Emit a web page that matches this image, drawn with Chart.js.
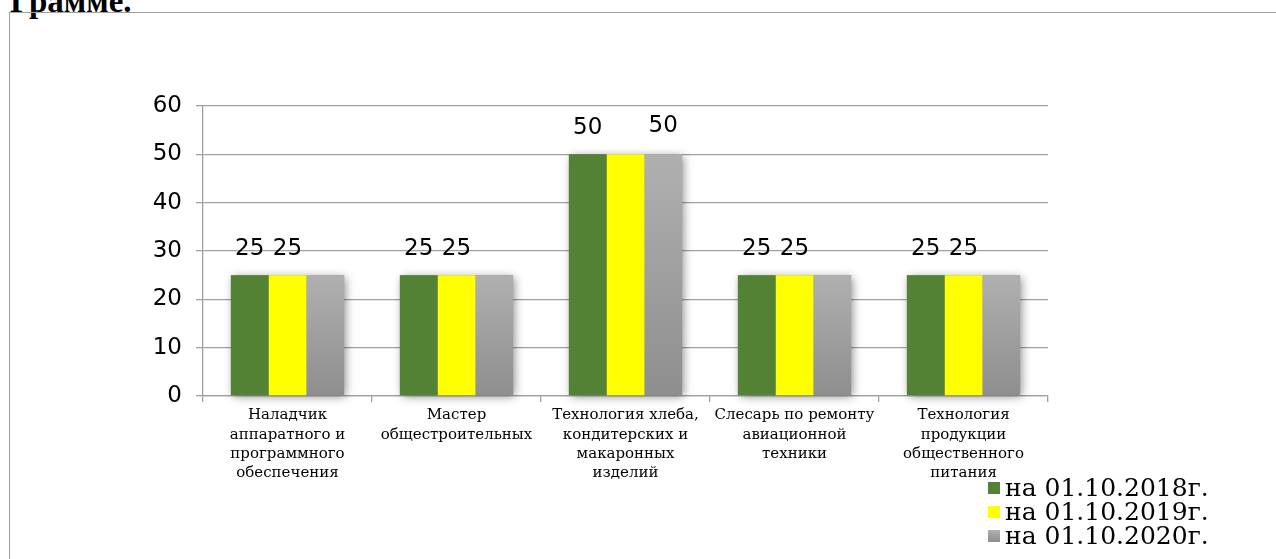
<!DOCTYPE html>
<html>
<head>
<meta charset="utf-8">
<script src="https://cdn.jsdelivr.net/npm/chart.js@4"></script>
<style>
  body { margin: 0; background: #fff; overflow: hidden; }
  #wrap { position: relative; width: 1276px; height: 559px; overflow: hidden; }
  #heading {
    position: absolute; left: 10px; top: -15px; margin: 0;
    font: bold 33px "Liberation Serif", serif; line-height: 1; color: #000;
  }
  #frame {
    position: absolute; left: 9px; top: 12px; width: 1300px; height: 600px;
    border: 1.5px solid #a0a0a0; box-sizing: border-box; background: transparent;
  }
  #chart { position: absolute; left: 0; top: 0; }
</style>
</head>
<body>
<div id="wrap">
  <p id="heading">Грамме.</p>
  <div id="frame"></div>
  <canvas id="chart" width="1276" height="559"></canvas>
</div>
<script>
// categories (multi-line labels as on the x axis)
const categories = [
  ['Наладчик', 'аппаратного и', 'программного', 'обеспечения'],
  ['Мастер', 'общестроительных'],
  ['Технология хлеба,', 'кондитерских и', 'макаронных', 'изделий'],
  ['Слесарь по ремонту', 'авиационной', 'техники'],
  ['Технология', 'продукции', 'общественного', 'питания']
];
const seriesNames = ['на 01.10.2018г.', 'на 01.10.2019г.', 'на 01.10.2020г.'];

const values2018 = [25, 25, 50, 25, 25];
const values2019 = [25, 25, 50, 25, 25];
const values2020 = [25, 25, 50, 25, 25];

// value labels that are actually printed above the bars (null = no label)
const labels2018 = [25, 25, 50, 25, 25];
const labels2019 = [25, 25, null, 25, 25];
const labels2020 = [null, null, 50, null, null];

const yMin = 0;
const yMax = 60;
const yStep = 10;

const green = '#548235';
const yellow = '#ffff00';
const grayTop = '#b0b0b0';
const grayBottom = '#8e8e8e';

// Gray bars have a vertical gradient, one per bar
function grayGradient(context) {
  const chart = context.chart;
  const area = chart.chartArea;
  if (!area || context.raw == null) return grayTop;
  const top = chart.scales.y.getPixelForValue(context.raw);
  const g = chart.ctx.createLinearGradient(0, top, 0, area.bottom);
  g.addColorStop(0, grayTop);
  g.addColorStop(1, grayBottom);
  return g;
}

// Soft shadow behind each group of bars
const groupShadow = {
  id: 'groupShadow',
  beforeDatasetsDraw(chart) {
    const ctx = chart.ctx;
    const metas = chart.data.datasets.map((d, i) => chart.getDatasetMeta(i));
    ctx.save();
    ctx.shadowColor = 'rgba(0,0,0,0.45)';
    ctx.shadowBlur = 9;
    ctx.shadowOffsetX = 2;
    ctx.shadowOffsetY = 2;
    ctx.fillStyle = '#999';
    categories.forEach((c, i) => {
      const first = metas[0].data[i];
      const last = metas[metas.length - 1].data[i];
      const left = first.x - first.width / 2;
      const right = last.x + last.width / 2;
      const top = Math.min(...metas.map(m => m.data[i].y));
      ctx.fillRect(left, top, right - left, first.base - top);
    });
    ctx.restore();
  }
};

// Value labels above bars
const valueLabels = {
  id: 'valueLabels',
  afterDatasetsDraw(chart) {
    const ctx = chart.ctx;
    const labelSets = [labels2018, labels2019, labels2020];
    ctx.save();
    ctx.font = '23px "DejaVu Sans", sans-serif';
    ctx.fillStyle = '#000';
    ctx.textAlign = 'center';
    ctx.textBaseline = 'middle';
    chart.data.datasets.forEach((ds, di) => {
      chart.getDatasetMeta(di).data.forEach((bar, i) => {
        const v = labelSets[di][i];
        if (v == null) return;
        ctx.fillText(String(v), bar.x, bar.y - 26 - (di === 2 ? 2 : 0));
      });
    });
    ctx.restore();
  }
};

// Legend in the bottom-right corner, one entry per row
const cornerLegend = {
  id: 'cornerLegend',
  afterDraw(chart) {
    const ctx = chart.ctx;
    const x = 988;
    const rowY = [488, 512, 536];
    ctx.save();
    ctx.font = '25px "DejaVu Serif", serif';
    ctx.textBaseline = 'middle';
    ctx.textAlign = 'left';
    chart.data.datasets.forEach((ds, i) => {
      const y = rowY[i];
      if (i === 2) {
        const g = ctx.createLinearGradient(0, y - 6, 0, y + 6);
        g.addColorStop(0, grayTop);
        g.addColorStop(1, grayBottom);
        ctx.fillStyle = g;
      } else {
        ctx.fillStyle = ds.backgroundColor;
      }
      ctx.fillRect(x, y - 6, 12, 12);
      ctx.fillStyle = '#000';
      ctx.fillText(ds.label, x + 17, y + 1);
    });
    ctx.restore();
  }
};

const ctx = document.getElementById('chart').getContext('2d');
new Chart(ctx, {
  type: 'bar',
  data: {
    labels: categories,
    datasets: [
      { label: seriesNames[0], data: values2018, backgroundColor: green },
      { label: seriesNames[1], data: values2019, backgroundColor: yellow },
      { label: seriesNames[2], data: values2020, backgroundColor: grayGradient }
    ]
  },
  options: {
    responsive: false,
    animation: false,
    categoryPercentage: 0.67,
    barPercentage: 1,
    layout: { padding: { left: 140, right: 228, top: 106, bottom: 53 } },
    plugins: {
      legend: { display: false },
      tooltip: { enabled: false },
      title: { display: false }
    },
    scales: {
      x: {
        afterFit: scale => { scale.height = 110; },
        grid: {
          drawOnChartArea: false,
          color: '#a0a0a0',
          lineWidth: 1.3,
          tickLength: 6
        },
        border: { color: '#a0a0a0', width: 1.3 },
        ticks: {
          autoSkip: false,
          maxRotation: 0,
          padding: 4,
          color: '#000',
          font: { family: '"DejaVu Serif", serif', size: 15, lineHeight: 1.28 }
        }
      },
      y: {
        min: yMin,
        max: yMax,
        afterFit: scale => { scale.width = 63; },
        grid: { color: '#a0a0a0', lineWidth: 1.3, tickLength: 7 },
        border: { color: '#a0a0a0', width: 1.3 },
        ticks: {
          stepSize: yStep,
          padding: 14,
          color: '#000',
          font: { family: '"DejaVu Sans", sans-serif', size: 23 }
        }
      }
    }
  },
  plugins: [groupShadow, valueLabels, cornerLegend]
});
</script>
</body>
</html>
